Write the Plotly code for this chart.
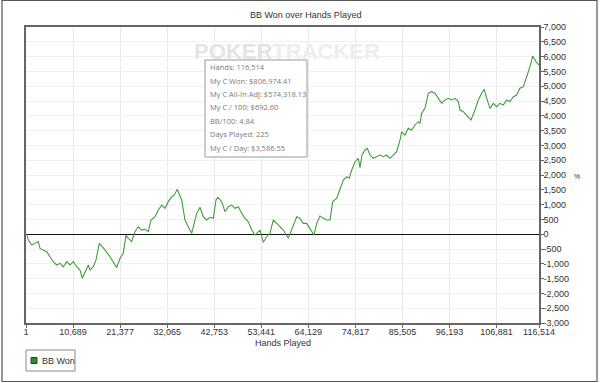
import plotly.graph_objects as go

# ---- data ----
hands = [1, 160, 523, 1295, 2045, 2794, 3181, 3930, 4702, 5452, 6201, 6973, 7723, 8472,
         9244, 9994, 10744, 11516, 12265, 12788, 13401, 14150, 14537, 15286, 15899, 16649,
         17944, 19079, 20601, 21350, 22100, 22713, 23235, 24008, 24757, 25507, 26279, 27028,
         27778, 28391, 29300, 30049, 30821, 31571, 32320, 33092, 33683, 34364, 35363, 36113,
         36862, 37634, 38770, 39520, 40269, 41041, 41791, 42540, 43154, 43540, 44449, 45198,
         45948, 46720, 47470, 48219, 48991, 49741, 50490, 51262, 52012, 52761, 53147, 53897,
         54669, 55418, 56168, 56940, 57690, 58439, 59575, 60347, 61483, 62232, 62982, 63754,
         64503, 65412, 66025, 66774, 67524, 68296, 69046, 69659, 70567, 71317, 72067, 72839,
         73429, 73974, 74724, 75474, 75859, 76314, 76995, 77517, 78130, 78880, 79652, 80401,
         81151, 81923, 82673, 83422, 84194, 84944, 85330, 86080, 86829, 87601, 88351, 89101,
         89486, 89872, 90622, 91371, 92143, 92893, 93643, 94415, 95164, 95914, 96686, 97435,
         98185, 98571, 99320, 100092, 101069, 101977, 102727, 103499, 104089, 104635, 105385,
         106134, 106906, 107656, 108405, 109177, 109927, 110677, 111449, 112198, 112948,
         113720, 114469, 115083, 115832, 116514]
bb_won = [0, 0, -200, -365, -310, -250, -480, -530, -590, -760, -930, -1040, -985, -1100,
          -930, -1040, -930, -1100, -1210, -1490, -1265, -1040, -1210, -1100, -870, -310,
          -530, -760, -1130, -815, -645, -30, -140, -250, 85, 250, 140, 165,
          85, 480, 590, 820, 985, 875, 1100, 1265, 1325, 1515, 1155, 480,
          250, 30, 705, 910, 590, 480, 570, 535, 1155, 1245, 1100, 760,
          930, 985, 875, 930, 705, 535, 420, 140, -30, 85, 140, -275,
          -85, 30, 480, 365, 250, 140, -140, 140, 590, 535, 365, 365,
          200, -30, 365, 615, 535, 480, 480, 1100, 1210, 1490, 1830, 1940,
          1890, 2170, 2450, 2565, 2250, 2675, 2845, 2900, 2675, 2565, 2620, 2675,
          2620, 2675, 2565, 2675, 2790, 3180, 3460, 3350, 3580, 3520, 3690, 3800,
          3745, 4085, 4250, 4760, 4815, 4760, 4590, 4420, 4535, 4590, 4535, 4590,
          4480, 4195, 4140, 4025, 3860, 4195, 4535, 4760, 4895, 4590, 4250,
          4420, 4310, 4420, 4365, 4535, 4480, 4645, 4700, 4930,
          4985, 5320, 5660, 6020, 5830, 5715]

x_ticks = [1, 10689, 21377, 32065, 42753, 53441, 64129, 74817, 85505, 96193, 106881, 116514]
x_tick_labels = ["1", "10,689", "21,377", "32,065", "42,753", "53,441", "64,129",
                 "74,817", "85,505", "96,193", "106,881", "116,514"]
y_ticks = list(range(-3000, 7001, 500))
y_tick_labels = [f"{v:,}" for v in y_ticks]

title_text = "BB Won over Hands Played"
x_title = "Hands Played"
series_name = "BB Won"
info_lines = ["Hands: 116,514", "My C Won: $806,974.41", "My C All-In Adj: $574,318.13",
              "My C / 100: $692.60", "BB/100: 4.84", "Days Played: 225", "My C / Day: $3,586.55"]

# ---- layout geometry (pixels) ----
W, H = 600, 383
L, R, T, B = 26, 539, 27, 323
X_RANGE = [1, 116514]
Y_RANGE = [-3000, 7000]


def px(x):
    return (x - L) / (R - L)


def py(y):
    return (B - y) / (B - T)


def dx(x):
    return X_RANGE[0] + px(x) * (X_RANGE[1] - X_RANGE[0])


def dy(y):
    return Y_RANGE[0] + py(y) * (Y_RANGE[1] - Y_RANGE[0])


fig = go.Figure()

# watermark (drawn as a trace so the info box can cover it)
fig.add_trace(go.Scatter(x=[dx(287)], y=[dy(53)], mode="text",
                         text=["<b><span style='color:#e4e4e4'>POKER</span>"
                               "<span style='color:#eeeeee'>TRACKER</span></b>"],
                         textfont=dict(family="Liberation Sans, Arial", size=22),
                         textposition="middle center", showlegend=False, hoverinfo="skip",
                         cliponaxis=False))

fig.add_trace(go.Scatter(x=hands, y=bb_won, mode="lines", name=series_name,
                         line=dict(color="#3f9e3a", width=1.1), showlegend=False,
                         hoverinfo="skip"))

tick_font = dict(family="Liberation Sans, Arial, sans-serif", size=9, color="#333333")

fig.update_layout(
    width=W, height=H,
    margin=dict(l=L, r=W - R, t=T, b=H - B),
    paper_bgcolor="white", plot_bgcolor="white",
    xaxis=dict(range=X_RANGE, tickvals=x_ticks, ticktext=x_tick_labels,
               showgrid=True, gridcolor="#e9e9e9", gridwidth=1,
               ticks="outside", ticklen=3, tickcolor="#666666", ticklabelstandoff=-4,
               showline=True, linecolor="#666666", linewidth=1.5, mirror=True,
               tickfont=tick_font, zeroline=False, fixedrange=True),
    yaxis=dict(range=Y_RANGE, tickvals=y_ticks, ticktext=y_tick_labels, side="right",
               showgrid=True, gridcolor="#f0f0f0", gridwidth=1,
               ticks="outside", ticklen=3, tickcolor="#666666", ticklabelstandoff=-2,
               showline=True, linecolor="#666666", linewidth=1.5, mirror=True,
               tickfont=tick_font, zeroline=True, zerolinecolor="#111111", zerolinewidth=1,
               fixedrange=True),
)

annotations = []
shapes = []

# title
annotations.append(dict(x=px(305), y=py(15), xref="paper", yref="paper", text=title_text,
                        showarrow=False, font=dict(family="Liberation Sans, Arial", size=9,
                                                   color="#333333"),
                        xanchor="center", yanchor="middle"))

# x-axis title
annotations.append(dict(x=px(283), y=py(343), xref="paper", yref="paper", text=x_title,
                        showarrow=False, font=dict(family="Liberation Sans, Arial", size=9,
                                                   color="#333333"),
                        xanchor="center", yanchor="middle"))

# small symbol on the right
annotations.append(dict(x=px(577), y=py(176), xref="paper", yref="paper", text="%",
                        showarrow=False, font=dict(family="Liberation Sans, Arial", size=7,
                                                   color="#333333"),
                        xanchor="center", yanchor="middle"))

# info box
shapes.append(dict(type="rect", xref="paper", yref="paper",
                   x0=px(205), x1=px(307), y0=py(157), y1=py(60),
                   fillcolor="rgba(255,255,255,0.92)", line=dict(color="#9a9a9a", width=1),
                   layer="above"))
for i, line in enumerate(info_lines):
    annotations.append(dict(x=px(208), y=py(67.3 + i * 13.4), xref="paper", yref="paper",
                            text=line, showarrow=False,
                            font=dict(family="Open Sans, Noto Sans, sans-serif", size=7.5,
                                      color="#7a7a7a"),
                            xanchor="left", yanchor="middle"))

# legend box
shapes.append(dict(type="rect", xref="paper", yref="paper",
                   x0=px(26), x1=px(75), y0=py(371), y1=py(350),
                   fillcolor="white", line=dict(color="#888888", width=1)))
shapes.append(dict(type="rect", xref="paper", yref="paper",
                   x0=px(31), x1=px(37), y0=py(363.5), y1=py(357.5),
                   fillcolor="#2f8a2f", line=dict(color="#1e4e1e", width=1)))
annotations.append(dict(x=px(40), y=py(360.5), xref="paper", yref="paper", text=series_name,
                        showarrow=False, font=dict(family="Liberation Sans, Arial", size=9,
                                                   color="#333333"),
                        xanchor="left", yanchor="middle"))

# outer frame
shapes.append(dict(type="rect", xref="paper", yref="paper",
                   x0=px(2), x1=px(597), y0=py(381.5), y1=py(0.5),
                   fillcolor="rgba(0,0,0,0)", line=dict(color="#555555", width=1.2)))

fig.update_layout(annotations=annotations, shapes=shapes)
fig.write_html("out.html")
